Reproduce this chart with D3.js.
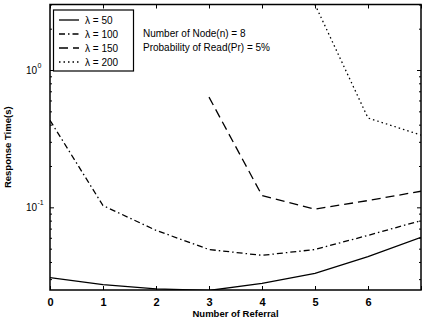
<!DOCTYPE html>
<html><head><meta charset="utf-8">
<script src="https://cdn.jsdelivr.net/npm/d3@7"></script>
<style>
body{margin:0;background:#fff;}
svg{display:block;font-family:"Liberation Sans",Arial,Helvetica,sans-serif;}
</style></head>
<body>
<svg id="chart" width="422" height="323"></svg>
<script>
// ---- data ----
const referrals = [0, 1, 2, 3, 4, 5, 6, 7];
const lambda50  = [0.0308, 0.0274, 0.0255, 0.0248, 0.0279, 0.033, 0.0438, 0.0604];
const lambda100 = [0.43, 0.103, 0.068, 0.0493, 0.0447, 0.0493, 0.0625, 0.080];
const lambda150x = [3, 4, 5, 6, 7];
const lambda150 = [0.635, 0.122, 0.097, 0.112, 0.131];
const lambda200x = [5, 6, 7];
const lambda200 = [3.0, 0.447, 0.336];
const legendLabels = ["λ = 50", "λ = 100", "λ = 150", "λ = 200"];
const xTickValues = [0, 1, 2, 3, 4, 5, 6, 7];
const xTickLabels = ["0", "1", "2", "3", "4", "5", "6", ""];
const annotations = ["Number of Node(n) = 8", "Probability of Read(Pr) = 5%"];

// ---- layout ----
const L = 50, R = 421, T = 4.5, B = 290;
const svg = d3.select("#chart");
const x = d3.scaleLinear().domain([0, 7]).range([L, R]);
const y = d3.scaleLog().domain([0.025, 3]).range([B, T]);

svg.append("defs").append("clipPath").attr("id", "clip")
  .append("rect").attr("x", L).attr("y", T).attr("width", R - L).attr("height", B - T);

const series = [
  {xs: referrals, ys: lambda50, dash: null},
  {xs: referrals, ys: lambda100, dash: "6,3,1.5,3"},
  {xs: lambda150x, ys: lambda150, dash: "9,5"},
  {xs: lambda200x, ys: lambda200, dash: "1.5,3"}
];

const line = d3.line().x(d => x(d[0])).y(d => y(d[1]));
const g = svg.append("g").attr("clip-path", "url(#clip)");
series.forEach(s => {
  g.append("path")
    .attr("d", line(s.xs.map((v, i) => [v, s.ys[i]])))
    .attr("fill", "none").attr("stroke", "#000").attr("stroke-width", 1.3)
    .attr("stroke-dasharray", s.dash);
});

// ---- axes (MATLAB style, inward ticks on all sides) ----
const tk = 4;
const axB = d3.axisBottom(x).tickValues(xTickValues).tickSizeInner(-tk).tickSizeOuter(0)
  .tickPadding(8).tickFormat((d, i) => xTickLabels[i]);
const axT = d3.axisTop(x).tickValues(xTickValues).tickSizeInner(-tk).tickSizeOuter(0).tickFormat("");
const majors = [0.1, 1];
const minors = [];
[0.01, 0.1, 1].forEach(dec => { for (let k = 2; k <= 9; k++) { const v = dec * k; if (v >= 0.025 && v <= 3.0001) minors.push(v); } });
const axL = d3.axisLeft(y).tickValues(majors).tickSizeInner(-tk).tickSizeOuter(0).tickFormat("");
const axR = d3.axisRight(y).tickValues(majors).tickSizeInner(-tk).tickSizeOuter(0).tickFormat("");
const axLm = d3.axisLeft(y).tickValues(minors).tickSizeInner(-2).tickSizeOuter(0).tickFormat("");
const axRm = d3.axisRight(y).tickValues(minors).tickSizeInner(-2).tickSizeOuter(0).tickFormat("");

function styleAxis(sel) {
  sel.select(".domain").remove();
  sel.selectAll("line").attr("stroke", "#000").attr("stroke-width", 1);
  sel.selectAll("text").attr("fill", "#000").attr("font-size", 11).attr("font-weight", "bold");
}
svg.append("g").attr("transform", `translate(0,${B})`).call(axB).call(styleAxis);
svg.append("g").attr("transform", `translate(0,${T})`).call(axT).call(styleAxis);
svg.append("g").attr("transform", `translate(${L},0)`).call(axL).call(styleAxis);
svg.append("g").attr("transform", `translate(${R},0)`).call(axR).call(styleAxis);
svg.append("g").attr("transform", `translate(${L},0)`).call(axLm).call(styleAxis);
svg.append("g").attr("transform", `translate(${R},0)`).call(axRm).call(styleAxis);

// frame
svg.append("rect").attr("x", L).attr("y", T).attr("width", R - L).attr("height", B - T)
  .attr("fill", "none").attr("stroke", "#000").attr("stroke-width", 1.5);

// y tick labels 10^x
majors.forEach(v => {
  const e = Math.round(Math.log10(v));
  const t = svg.append("text").attr("x", 37).attr("y", y(v) + 4)
    .attr("text-anchor", "end").attr("font-size", 10).attr("fill", "#000").text("10");
  svg.append("text").attr("x", 37.5).attr("y", y(v) - 2)
    .attr("font-size", 7).attr("fill", "#000").text(String(e));
});

// axis titles
svg.append("text").attr("x", (L + R) / 2).attr("y", 317).attr("text-anchor", "middle")
  .attr("font-size", 9.5).attr("font-weight", "bold").text("Number of Referral");
svg.append("text").attr("transform", `translate(11,${(T + B) / 2}) rotate(-90)`)
  .attr("text-anchor", "middle").attr("font-size", 9.5).attr("font-weight", "bold").text("Response Time(s)");

// legend
const lg = svg.append("g");
lg.append("rect").attr("x", 53.5).attr("y", 10).attr("width", 80).attr("height", 61)
  .attr("fill", "#fff").attr("stroke", "#000").attr("stroke-width", 1.2);
legendLabels.forEach((lab, i) => {
  const yy = 20 + i * 14;
  lg.append("line").attr("x1", 59).attr("x2", 79).attr("y1", yy).attr("y2", yy)
    .attr("stroke", "#000").attr("stroke-width", 1.3).attr("stroke-dasharray", series[i].dash);
  lg.append("text").attr("x", 85).attr("y", yy + 3.5).attr("font-size", 10).text(lab);
});

// annotation
annotations.forEach((a, i) => {
  svg.append("text").attr("x", 143).attr("y", 37 + i * 14).attr("font-size", 10).text(a);
});
</script>
</body></html>
